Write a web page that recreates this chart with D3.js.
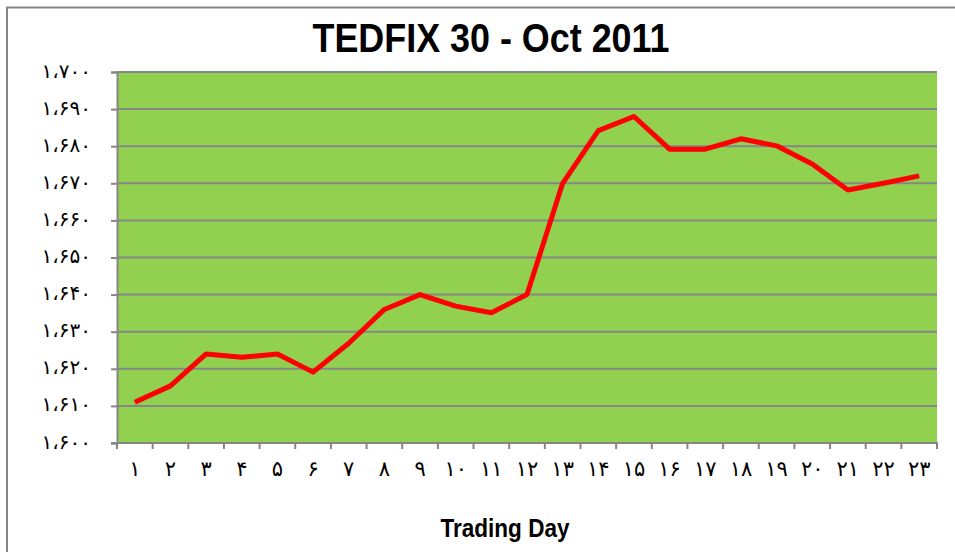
<!DOCTYPE html>
<html>
<head>
<meta charset="utf-8">
<title>TEDFIX 30 - Oct 2011</title>
<script src="https://cdn.jsdelivr.net/npm/d3@7"></script>
<style>
    body { margin: 0; background: #fff; }
    svg { display: block; }
</style>
</head>
<body>
<script>
// trading days of October 2011 and the index close for each
let days = d3.range(1, 24)
let values = [1611, 1615.4, 1624, 1623.1, 1624, 1619.1, 1626.9, 1636, 1640, 1636.9, 1635.1, 1640,
              1670, 1684.2, 1688, 1679.2, 1679.2, 1682, 1680.1, 1675.2, 1668.2, 1670, 1672]

let xLabels = ['۱','۲','۳','۴','۵','۶','۷','۸','۹','۱۰','۱۱','۱۲','۱۳','۱۴','۱۵','۱۶','۱۷','۱۸','۱۹','۲۰','۲۱','۲۲','۲۳']
let yTicks = [1600, 1610, 1620, 1630, 1640, 1650, 1660, 1670, 1680, 1690, 1700]
let yTickLabels = ['۱،۶۰۰','۱،۶۱۰','۱،۶۲۰','۱،۶۳۰','۱،۶۴۰','۱،۶۵۰','۱،۶۶۰','۱،۶۷۰','۱،۶۸۰','۱،۶۹۰','۱،۷۰۰']

let width = 955,
    height = 552,
    plotLeft = 117, plotRight = 937,
    plotTop = 72, plotBottom = 443,
    gray = '#868686'

let svg = d3.select('body').append('svg')
    .attr('width', width)
    .attr('height', height)

// outer chart frame (runs off the right and bottom edge)
svg.append('rect')
    .attr('x', 7).attr('y', 7.5)
    .attr('width', 1000).attr('height', 600)
    .attr('fill', '#fff')
    .attr('stroke', gray).attr('stroke-width', 2)

let x = d3.scaleBand().domain(days).range([plotLeft, plotRight]).padding(0)
let y = d3.scaleLinear().domain([1600, 1700]).range([plotBottom, plotTop])

// plot area
svg.append('rect')
    .attr('x', plotLeft).attr('y', plotTop)
    .attr('width', plotRight - plotLeft).attr('height', plotBottom - plotTop)
    .attr('fill', '#92D050')

// horizontal grid
svg.append('g')
    .selectAll('line')
    .data(yTicks.slice(1))
    .enter().append('line')
    .attr('x1', plotLeft).attr('x2', plotRight)
    .attr('y1', d => y(d)).attr('y2', d => y(d))
    .attr('stroke', gray).attr('stroke-width', 2)

// y axis
let yAxis = d3.axisLeft(y)
    .tickValues(yTicks)
    .tickSize(6)
    .tickPadding(20)
    .tickFormat((d, i) => yTickLabels[i])

svg.append('g')
    .attr('transform', 'translate(' + plotLeft + ',0)')
    .call(yAxis)
    .call(g => g.select('.domain').attr('stroke', gray).attr('stroke-width', 2))
    .call(g => g.selectAll('.tick line').attr('stroke', gray).attr('stroke-width', 2))
    .call(g => g.selectAll('.tick text')
        .attr('font-family', 'DejaVu Sans')
        .attr('font-size', 20)
        .attr('dy', '0.25em')
        .attr('fill', '#000')
        .attr('direction', 'ltr'))

// x axis: ticks on the category boundaries, labels centred in each band
let xAxis = d3.axisBottom(x)
    .tickSize(0)
    .tickPadding(18)
    .tickFormat((d, i) => xLabels[i])

svg.append('g')
    .attr('transform', 'translate(0,' + plotBottom + ')')
    .call(xAxis)
    .call(g => g.select('.domain').remove())
    .call(g => g.selectAll('.tick text')
        .attr('font-family', 'DejaVu Sans')
        .attr('font-size', 21)
        .attr('fill', '#000')
        .attr('direction', 'ltr'))

let boundaries = days.map(d => x(d)).concat([plotRight])
svg.append('g')
    .selectAll('line')
    .data(boundaries)
    .enter().append('line')
    .attr('x1', d => d).attr('x2', d => d)
    .attr('y1', plotBottom).attr('y2', plotBottom + 6)
    .attr('stroke', gray).attr('stroke-width', 2)

svg.append('line')
    .attr('x1', plotLeft - 6).attr('x2', plotRight + 1)
    .attr('y1', plotBottom).attr('y2', plotBottom)
    .attr('stroke', gray).attr('stroke-width', 2)

// the index line
let line = d3.line()
    .x((d, i) => x(days[i]) + x.bandwidth() / 2)
    .y(d => y(d))

svg.append('path')
    .datum(values)
    .attr('d', line)
    .attr('fill', 'none')
    .attr('stroke', '#FF0000')
    .attr('stroke-width', 5)
    .attr('stroke-linejoin', 'round')

// titles
svg.append('text')
    .attr('x', 491).attr('y', 52)
    .attr('text-anchor', 'middle')
    .attr('font-family', 'Liberation Sans Narrow, Liberation Sans')
    .attr('font-weight', 'bold')
    .attr('font-size', 40)
    .attr('textLength', 357)
    .attr('lengthAdjust', 'spacingAndGlyphs')
    .text('TEDFIX 30 - Oct 2011')

svg.append('text')
    .attr('x', 505).attr('y', 537)
    .attr('text-anchor', 'middle')
    .attr('font-family', 'Liberation Sans Narrow, Liberation Sans')
    .attr('font-weight', 'bold')
    .attr('font-size', 25)
    .attr('textLength', 129)
    .attr('lengthAdjust', 'spacingAndGlyphs')
    .text('Trading Day')
</script>
</body>
</html>
